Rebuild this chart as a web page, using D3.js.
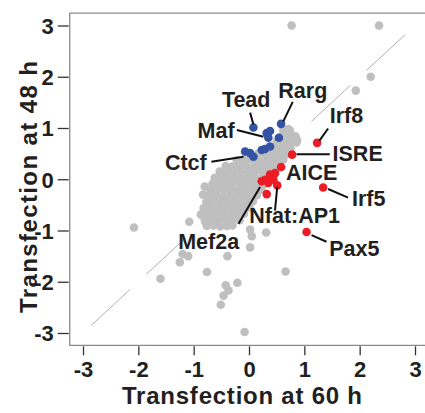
<!DOCTYPE html>
<html><head><meta charset="utf-8">
<script src="https://cdn.jsdelivr.net/npm/d3@7"></script>
<style>html,body{margin:0;padding:0;background:#fff;overflow:hidden}</style>
</head><body><svg id="c" width="425" height="413"></svg>
<script>
// ---------- data ----------
const xTicks = [-3,-2,-1,0,1,2,3];
const yTicks = [-3,-2,-1,0,1,2,3];
const xTitle = "Transfection at 60 h";
const yTitle = "Transfection at 48 h";

// grey motifs: [60 h, 48 h]
const grayPoints = [
 [0.77,3.0],[2.35,3.0],[2.2,2.0],[1.93,1.73],[0.71,0.98],[-2.08,-0.94],[-1.08,-0.83],[-0.87,-0.69],
 [-0.78,-0.85],[-0.63,-0.79],[0.05,-1.11],[0.31,-1.04],[0.02,-1.33],[-0.39,-1.5],[-1.2,-1.46],[-1.1,-1.5],
 [-1.25,-1.62],[-0.76,-1.81],[-1.6,-1.94],[0.66,-1.8],[-0.21,-2.02],[-0.42,-2.07],[-0.37,-2.17],[-0.46,-2.27],
 [-0.51,-2.45],[-0.08,-2.98],[-0.65,-0.43],[-0.8,-0.14],[-0.83,-0.3],[-0.49,-0.53],[0.02,-0.98],
 [0.74,0.77],[0.87,0.76],[0.69,0.61],
 [0.62,0.96],[0.74,0.95],
 [0.6,0.85],[0.72,0.86],[0.84,0.84],
 [0.5,0.73],[0.62,0.72],[0.75,0.74],[0.86,0.72],
 [0.4,0.61],[0.51,0.6],[0.63,0.62],[0.75,0.6],
 [0.17,0.5],[0.3,0.49],[0.42,0.51],[0.55,0.5],[0.68,0.49],
 [-0.22,0.37],[-0.1,0.38],[0.02,0.39],[0.14,0.37],[0.27,0.38],[0.39,0.36],[0.5,0.39],[0.62,0.38],
 [-0.42,0.26],[-0.3,0.25],[-0.17,0.27],[-0.05,0.26],[0.08,0.24],[0.2,0.27],[0.32,0.26],[0.45,0.25],[0.56,0.27],
 [-0.53,0.15],[-0.41,0.14],[-0.29,0.16],[-0.16,0.15],[-0.03,0.13],[0.09,0.15],[0.22,0.16],[0.35,0.14],[0.47,0.15],
 [-0.62,0.03],[-0.5,0.02],[-0.38,0.04],[-0.25,0.03],[-0.13,0.01],[0.0,0.04],[0.12,0.03],[0.24,0.02],[0.33,0.04],
 [-0.66,-0.09],[-0.54,-0.08],[-0.42,-0.1],[-0.3,-0.09],[-0.17,-0.08],[-0.05,-0.1],[0.08,-0.09],[0.2,-0.08],[0.27,-0.1],
 [-0.7,-0.2],[-0.58,-0.21],[-0.45,-0.19],[-0.33,-0.2],[-0.2,-0.22],[-0.08,-0.2],[0.05,-0.19],[0.17,-0.21],[0.22,-0.2],
 [-0.72,-0.32],[-0.6,-0.31],[-0.47,-0.33],[-0.35,-0.32],[-0.22,-0.31],[-0.1,-0.33],[0.02,-0.32],[0.14,-0.31],
 [-0.77,-0.44],[-0.64,-0.43],[-0.52,-0.45],[-0.4,-0.44],[-0.27,-0.43],[-0.15,-0.45],[-0.02,-0.44],[0.07,-0.43],
 [-0.82,-0.56],[-0.7,-0.55],[-0.57,-0.57],[-0.45,-0.56],[-0.32,-0.55],[-0.2,-0.57],[-0.08,-0.56],[0.01,-0.55],
 [-0.84,-0.67],[-0.72,-0.68],[-0.6,-0.66],[-0.47,-0.67],[-0.35,-0.68],[-0.22,-0.66],[-0.09,-0.67],
 [-0.8,-0.79],[-0.68,-0.78],[-0.55,-0.8],[-0.42,-0.79],[-0.3,-0.78],[-0.17,-0.8],
 [-0.76,-0.91],[-0.64,-0.9],[-0.52,-0.92],[-0.4,-0.91],[-0.3,-0.9]
];
// blue motifs (lower at 60 h)
const bluePoints = [
 [0.08,1.01],[0.58,1.08],[0.32,0.9],[0.38,0.94],[0.35,0.81],[0.54,0.81],[0.38,0.64],[0.29,0.59],[0.23,0.57],
 [-0.07,0.54],[0.02,0.51],[0.08,0.44]
];
// red motifs (higher at 60 h)
const redPoints = [
 [1.23,0.71],[0.78,0.48],[0.58,0.24],[1.34,-0.16],[1.04,-1.03],
 [0.38,0.09],[0.47,0.12],[0.29,-0.01],[0.23,-0.04],[0.44,-0.01],[0.51,-0.12],[0.35,-0.07],[0.32,-0.29]
];
const labelNames = ["Tead","Rarg","Maf","Ctcf","Irf8","ISRE","AICE","Irf5","Pax5","Nfat:AP1","Mef2a"];

// ---------- layout (annotation placement, in data units) ----------
const labelLayout = {
 "Tead":    {t:[-0.49,1.41], l:[[0.02,1.3],[0.08,1.07]]},
 "Rarg":    {t:[0.53,1.58],  l:[[0.79,1.51],[0.62,1.13]]},
 "Maf":     {t:[-0.93,0.8],  l:[[-0.22,0.96],[0.26,0.83]]},
 "Ctcf":    {t:[-1.52,0.18], l:[[-0.68,0.34],[-0.1,0.44]]},
 "Irf8":    {t:[1.46,1.1],   l:[[1.43,0.99],[1.27,0.75]]},
 "ISRE":    {t:[1.51,0.35],  l:[[0.86,0.49],[1.46,0.49]]},
 "AICE":    {t:[0.67,-0.01], l:null},
 "Irf5":    {t:[1.86,-0.52], l:[[1.43,-0.19],[1.79,-0.36]]},
 "Pax5":    {t:[1.45,-1.5],  l:[[1.13,-1.09],[1.4,-1.22]]},
 "Nfat:AP1":{t:[0.005,-0.85],l:[[0.51,-0.15],[0.47,-0.61]]},
 "Mef2a":   {t:[-1.28,-1.36],l:[[0.2,-0.15],[-0.19,-0.87]]}
};

const svg = d3.select("#c");
const font = "'Liberation Sans', Arial, Helvetica, sans-serif";
const x = d3.scaleLinear().domain([-3,3]).range([83,415]);
const y = d3.scaleLinear().domain([-3,3]).range([333,25.5]);

// frame
svg.append("path")
 .attr("d", `M${x(3.3)},${y(3.24)}H${x(-3.24)}V${y(-3.24)}H${x(3.3)}`)
 .attr("fill","none").attr("stroke","#8a8a8a").attr("stroke-width",1.3);

// axes
const ax = svg.append("g").attr("transform",`translate(0,${y(-3.24)+1})`)
 .call(d3.axisBottom(x).tickValues(xTicks).tickSize(9).tickPadding(6).tickFormat(d3.format("d")));
const ay = svg.append("g").attr("transform",`translate(${x(-3.24)-1},0)`)
 .call(d3.axisLeft(y).tickValues(yTicks).tickSize(11).tickPadding(4).tickFormat(d3.format("d")));
[ax,ay].forEach(g=>{
 g.select(".domain").remove();
 g.selectAll(".tick line").attr("stroke","#333").attr("stroke-width",1.3);
 g.selectAll("text").attr("font-family",font).attr("font-weight","bold")
  .attr("font-size",22).attr("fill","#231f20").text(d=>d<0?"-"+Math.abs(d):d);
});
ay.selectAll("text").attr("dy","0.36em");

// titles
svg.append("text").attr("x",242).attr("y",404).attr("text-anchor","middle")
 .attr("font-family",font).attr("font-weight","bold").attr("font-size",24).attr("fill","#231f20")
 .attr("textLength",240).attr("lengthAdjust","spacing").text(xTitle);
svg.append("text").attr("transform","translate(37,187) rotate(-90)").attr("text-anchor","middle")
 .attr("font-family",font).attr("font-weight","bold").attr("font-size",24).attr("fill","#231f20")
 .attr("textLength",252).attr("lengthAdjust","spacing").text(yTitle);

// diagonal
svg.append("line")
 .attr("x1",x(-2.85)).attr("y1",y(-2.85)).attr("x2",x(2.85)).attr("y2",y(2.85))
 .attr("stroke","#b0b0b0").attr("stroke-width",1).attr("stroke-dasharray","53,22");

// points
const r = 4.3;
svg.append("g").selectAll("circle").data(grayPoints).join("circle")
 .attr("cx",d=>x(d[0])).attr("cy",d=>y(d[1])).attr("r",r).attr("fill","#bfbfbf");
svg.append("g").selectAll("circle").data(bluePoints).join("circle")
 .attr("cx",d=>x(d[0])).attr("cy",d=>y(d[1])).attr("r",r).attr("fill","#3553a5");
svg.append("g").selectAll("circle").data(redPoints).join("circle")
 .attr("cx",d=>x(d[0])).attr("cy",d=>y(d[1])).attr("r",r).attr("fill","#ec1c24");

// labels
const lg = svg.append("g");
labelNames.forEach(n=>{
 const L = labelLayout[n];
 if (L.l) lg.append("line")
  .attr("x1",x(L.l[0][0])).attr("y1",y(L.l[0][1])).attr("x2",x(L.l[1][0])).attr("y2",y(L.l[1][1]))
  .attr("stroke","#111").attr("stroke-width",2);
 lg.append("text").attr("x",x(L.t[0])).attr("y",y(L.t[1]))
  .attr("font-family",font).attr("font-weight","bold").attr("font-size",21.5).attr("fill","#231f20")
  .text(n);
});
</script></body></html>
